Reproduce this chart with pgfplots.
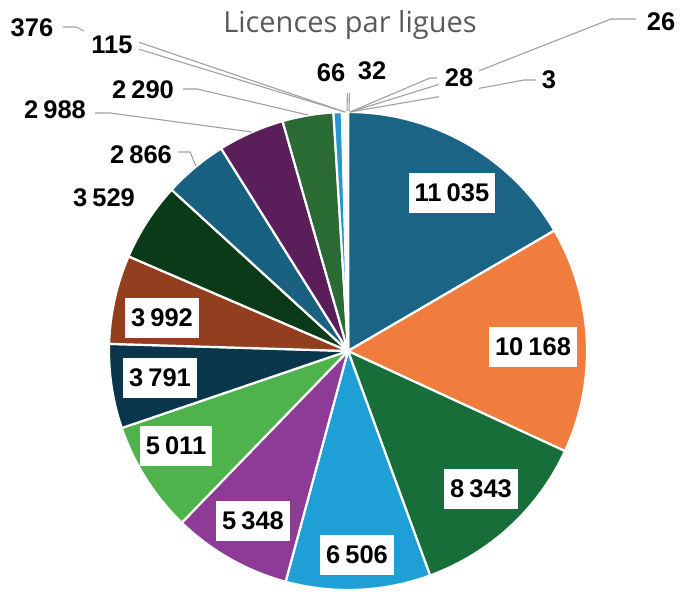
\documentclass[border=0pt]{standalone}
\usepackage{pgfplots}
\pgfplotsset{compat=1.18}
\usepackage{pgfplotstable}
\usepackage{fontspec}
\setmainfont{Liberation Sans}
\newfontfamily\titlefont{Open Sans}
\definecolor{c0}{HTML}{1B6485}
\definecolor{c1}{HTML}{F07C3E}
\definecolor{c2}{HTML}{186E38}
\definecolor{c3}{HTML}{1EA0D6}
\definecolor{c4}{HTML}{8E3B97}
\definecolor{c5}{HTML}{4DB34A}
\definecolor{c6}{HTML}{0A364B}
\definecolor{c7}{HTML}{933F1F}
\definecolor{c8}{HTML}{0B3A18}
\definecolor{c9}{HTML}{186180}
\definecolor{c10}{HTML}{5A1E5A}
\definecolor{c11}{HTML}{2A6A33}
\definecolor{c12}{HTML}{2596CF}
\definecolor{c13}{HTML}{E0732F}
\definecolor{c14}{HTML}{1F7A3F}
\definecolor{c15}{HTML}{2596CF}
\definecolor{c16}{HTML}{8E3B97}
\definecolor{c17}{HTML}{4DB34A}
\definecolor{c18}{HTML}{0A364B}
\definecolor{leader}{HTML}{A0A0A0}
\definecolor{titlegray}{HTML}{595959}
\pgfplotstableread{
v lx ly
11035 452 193
10168 533 347
8343 481 489
6506 357 555
5348 253 521
5011 176 446
3791 160 378
3992 162 318
3529 104 198
2866 141 155
2988 55 110
2290 143 90
376 32 28
115 112 45
66 331 73
32 372 71
28 459 78
26 661 22
3 549 80
}\pietable
\begin{document}
\def\cum{0}%
\pgfplotsforeachungrouped \i in {0,...,18}{%
  \pgfplotstablegetelem{\i}{v}\of\pietable
  \let\val\pgfplotsretval
  \pgfmathsetmacro\sa{90-\cum/66.513*360}%
  \pgfmathsetmacro\cumnew{\cum+\val/1000}%
  \pgfmathsetmacro\ea{90-\cumnew/66.513*360}%
  \expandafter\xdef\csname sa\i\endcsname{\sa}%
  \expandafter\xdef\csname ea\i\endcsname{\ea}%
  \xdef\cum{\cumnew}%
}%
\begin{tikzpicture}
\begin{axis}[
  width=684pt, height=593pt, scale only axis,
  xmin=0, xmax=684, ymin=0, ymax=593, y dir=reverse,
  hide axis, clip=false,
]
\path (axis cs:0,0) rectangle (axis cs:684,593);
% slices
\pgfplotsforeachungrouped \i in {0,...,18}{%
  \edef\cmd{\noexpand\fill[c\i, draw=white, line width=2.2pt, line join=round]
    (axis cs:348,351) -- ++(\csname sa\i\endcsname:239pt)
    arc[start angle=\csname sa\i\endcsname, end angle=\csname ea\i\endcsname, radius=239pt] -- cycle;}%
  \cmd
}
% leader lines
\draw[leader, line width=1.1pt] (axis cs:63,27) -- (axis cs:76,27) -- (axis cs:84,31);
\draw[leader, line width=1.1pt] (axis cs:138,42) -- (axis cs:345,112);
\draw[leader, line width=1.1pt] (axis cs:138,49) -- (axis cs:345,112);
\draw[leader, line width=1.1pt] (axis cs:183,89) -- (axis cs:197,89) -- (axis cs:308,115);
\draw[leader, line width=1.1pt] (axis cs:95,113) -- (axis cs:110,113) -- (axis cs:252,132);
\draw[leader, line width=1.1pt] (axis cs:178,152) -- (axis cs:190,152) -- (axis cs:196,166);
\draw[leader, line width=1.1pt] (axis cs:348,70) -- (axis cs:347,111);
\draw[leader, line width=1.1pt] (axis cs:350,70) -- (axis cs:349,111);
\draw[leader, line width=1.1pt] (axis cs:437,78) -- (axis cs:430,78) -- (axis cs:350,112);
\draw[leader, line width=1.1pt] (axis cs:636,19) -- (axis cs:611,19) -- (axis cs:481,70) -- (axis cs:437,85) -- (axis cs:350,112);
\draw[leader, line width=1.1pt] (axis cs:537,80) -- (axis cs:524,80) -- (axis cs:481,88) -- (axis cs:437,97) -- (axis cs:350,112);
% labels
\pgfplotsforeachungrouped \i in {0,...,18}{%
  \pgfplotstablegetelem{\i}{v}\of\pietable \let\val\pgfplotsretval
  \pgfplotstablegetelem{\i}{lx}\of\pietable \let\lx\pgfplotsretval
  \pgfplotstablegetelem{\i}{ly}\of\pietable \let\ly\pgfplotsretval
  \edef\cmd{\noexpand\node[fill=white, inner xsep=6pt, inner ysep=0pt, minimum height=40pt,
     font=\noexpand\fontsize{25.5}{26}\noexpand\selectfont\noexpand\bfseries]
     at (axis cs:\lx,\ly) {\noexpand\pgfmathprintnumber[assume math mode=true, 1000 sep={\noexpand\kern0.2em}]{\val}};}%
  \cmd
}
\node[titlegray, font=\titlefont\fontsize{29}{29}\selectfont] at (axis cs:350,25) {Licences par ligues};
\end{axis}
\end{tikzpicture}
\end{document}
